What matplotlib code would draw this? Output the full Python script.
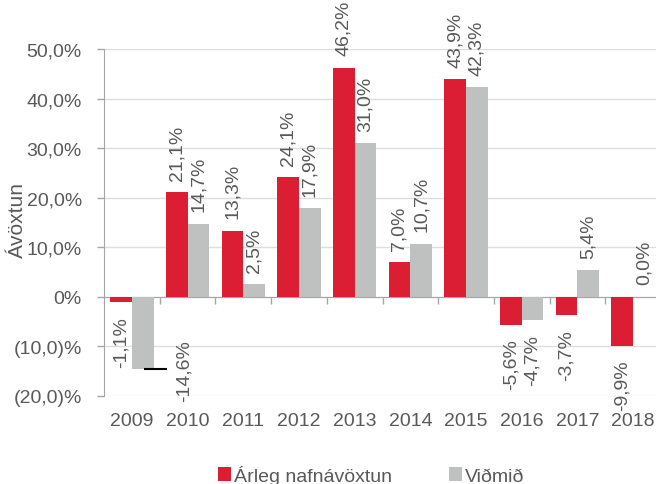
#!/usr/bin/env python3
"""Annual nominal return vs. benchmark, 2009-2018."""

import matplotlib

matplotlib.use("Agg")
import matplotlib.pyplot as plt  # noqa: E402
import matplotlib.transforms as mtransforms  # noqa: E402
import numpy as np  # noqa: E402

YEARS = ["2009", "2010", "2011", "2012", "2013", "2014", "2015", "2016", "2017", "2018"]
ANNUAL = [-1.1, 21.1, 13.3, 24.1, 46.2, 7.0, 43.9, -5.6, -3.7, -9.9]
BENCHMARK = [-14.6, 14.7, 2.5, 17.9, 31.0, 10.7, 42.3, -4.7, 5.4, 0.0]
Y_TICKS = [-20, -10, 0, 10, 20, 30, 40, 50]
Y_TICK_LABELS = ["(20,0)%", "(10,0)%", "0%", "10,0%", "20,0%", "30,0%", "40,0%", "50,0%"]
SERIES_NAMES = ["Árleg nafnávöxtun", "Viðmið"]

RED = "#DC1E35"
GREY = "#BFC0C0"
TEXT = "#595959"
AXIS = "#A6A6A6"
GRID = "#DEDEDE"


def fmt(v: float) -> str:
    return f"{v:.1f}".replace(".", ",") + "%"


def main() -> None:
    plt.rcParams["font.family"] = ["Liberation Sans", "DejaVu Sans"]
    plt.rcParams["font.size"] = 14

    fig = plt.figure(figsize=(6.56, 4.85), dpi=100)
    ax = fig.add_axes([104 / 656, 1 - 397 / 485, 557 / 656, 347 / 485])

    x = np.arange(len(YEARS))
    width = 0.39
    ax.bar(x - width / 2, ANNUAL, width, color=RED, label=SERIES_NAMES[0], zorder=3)
    ax.bar(x + width / 2, BENCHMARK, width, color=GREY, label=SERIES_NAMES[1], zorder=3)

    # value labels, rotated, outside the bar ends
    for i in range(len(YEARS)):
        for offset, value in ((-width / 2, ANNUAL[i]), (width / 2, BENCHMARK[i])):
            xpos = x[i] + offset
            if i == 0 and offset > 0:
                # this label sits off to the right with a short leader
                ax.plot([x[i] + 0.21, x[i] + 0.64], [value, value],
                        color="black", lw=1.5, zorder=4, solid_capstyle="butt")
                ax.annotate(fmt(value), (x[i] + 0.93, value), xytext=(0, 22),
                            textcoords="offset points", rotation=90,
                            ha="center", va="top", color=TEXT)
                continue
            dy = 9 if value >= 0 else -10
            ax.annotate(fmt(value), (xpos, value), xytext=(0, dy),
                        textcoords="offset points", rotation=90,
                        ha="center", va="bottom" if value >= 0 else "top",
                        color=TEXT, zorder=5)

    ax.set_xlim(-0.5, len(YEARS) - 0.5)
    ax.set_ylim(-20, 50)
    ax.set_yticks(Y_TICKS)
    ax.set_yticklabels(Y_TICK_LABELS, color=TEXT)
    ax.tick_params(axis="y", length=5, width=1, color=AXIS, pad=11)
    ax.grid(axis="y", color=GRID, lw=1, zorder=0)

    # category axis line at zero, separators between years
    ax.spines["bottom"].set_position(("data", 0))
    ax.spines["bottom"].set_color(AXIS)
    ax.spines["left"].set_color(AXIS)
    ax.spines["top"].set_visible(False)
    ax.spines["right"].set_visible(False)
    ax.set_xticks(x[:-1] + 0.5)
    ax.set_xticklabels([])
    ax.tick_params(axis="x", length=5, width=1, color=AXIS)

    trans = mtransforms.blended_transform_factory(ax.transData, ax.transAxes)
    for xi, year in zip(x, YEARS):
        ax.text(xi, -0.07, year, transform=trans, ha="center", va="center",
                color=TEXT, clip_on=False)

    fig.text(17 / 656, 1 - 220 / 485, "Ávöxtun", rotation=90,
             ha="center", va="center", color=TEXT, fontsize=15)

    fig.legend(loc="center", bbox_to_anchor=(371 / 656, 1 - 476 / 485), ncol=2,
               frameon=False, handlelength=0.7, handleheight=0.7,
               handletextpad=0.15, columnspacing=2.9, labelcolor=TEXT)

    fig.savefig("out.png", dpi=100)
    plt.close(fig)


if __name__ == "__main__":
    main()
